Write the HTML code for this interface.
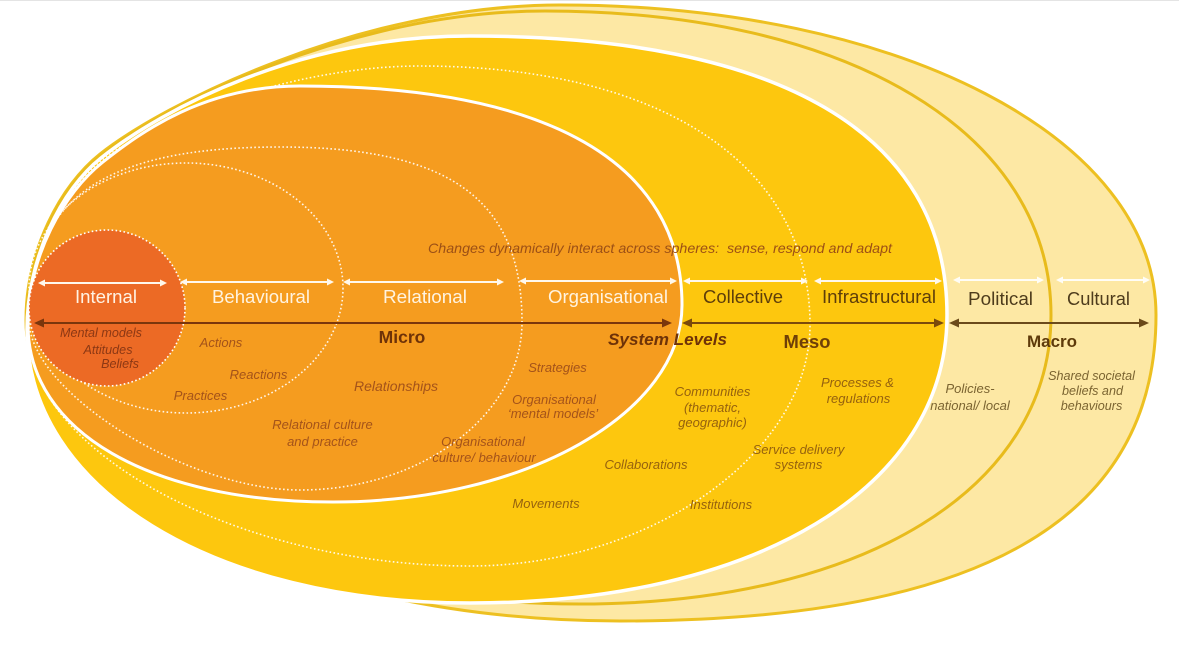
<!DOCTYPE html>
<html>
<head>
<meta charset="utf-8">
<style>
html,body{margin:0;padding:0;background:#fff;}
svg{display:block;}
text{font-family:"Liberation Sans",Arial,sans-serif;}
.lbl{font-size:18.5px;}
.it{font-size:13px;font-style:italic;}
.bd{font-size:17.5px;font-weight:bold;}
</style>
</head>
<body>
<svg width="1179" height="650" viewBox="0 0 1179 650" xmlns="http://www.w3.org/2000/svg">
<rect x="0" y="0" width="1179" height="650" fill="#fff"/>
<rect x="0" y="0" width="1179" height="1" fill="#e4e4e4"/>

<!-- Cultural -->
<path d="M26,320 C26,250 60.8,185 100,154 C162.7,104.3 360,5 560,5 C899.7,5 1156,138.3 1156,315 C1156,520 979.1,621 620,621 C293.3,621 26,485.6 26,320 Z" fill="#FDE8A4" stroke="#EDC021" stroke-width="3"/>
<!-- Political -->
<path d="M27,322 C27,252 60.8,187 100,156 C162.7,106.3 350,11 545,11 C848.6,11 1051,132.6 1051,315 C1051,488.4 862.6,604 580,604 C275.9,604 27,477.1 27,322 Z" fill="#FDE8A4" stroke="#E8BB1C" stroke-width="3"/>
<!-- Meso -->
<path d="M27,330 C27,258 61.8,189 101,158 C163.7,108.3 300,36 470,36 C780,36 947,133.7 947,315 C947,487.8 756.2,603 470,603 C213.1,603 27,488.3 27,330 Z" fill="#FDC70E" stroke="#FFFFFF" stroke-width="3.5"/>
<!-- Collective dotted -->
<path d="M28,330 C28,258 62.8,191 102,160 C149,122.7 290,66 420,66 C661.8,66 810,164.4 810,325 C810,452.7 650.2,566 470,566 C240.2,566 28,452.7 28,330 Z" fill="none" stroke="#FFFFFF" stroke-width="1.6" stroke-dasharray="1.6 2.4" opacity="0.9"/>
<!-- Organisational -->
<path d="M28,325 C28,256 63.8,193 103,162 C142.2,131 205,86 300,86 C548.3,86 682,162.6 682,305 C682,413.4 525,502 333,502 C150,502 28,431.2 28,325 Z" fill="#F59C1F" stroke="#FFFFFF" stroke-width="3"/>
<!-- Relational dotted -->
<path d="M29,320 C29,198.9 104.3,147 280,147 C449.4,147 522,199.5 522,322 C522,414.4 422.1,490 300,490 C186.2,490 29,391.4 29,320 Z" fill="none" stroke="#FFFFFF" stroke-width="1.6" stroke-dasharray="1.6 2.4" opacity="0.9"/>
<!-- Behavioural dotted -->
<ellipse cx="186" cy="288" rx="157" ry="125" fill="none" stroke="#FFFFFF" stroke-width="1.6" stroke-dasharray="1.6 2.4" opacity="0.9"/>
<!-- Internal -->
<circle cx="107" cy="308" r="78" fill="#EC6A25" stroke="#FFFFFF" stroke-width="1.6" stroke-dasharray="1.6 2.4"/>

<!-- White double arrows -->
<g stroke="#FFF8EC" stroke-width="2" fill="#FFF8EC">
  <line x1="44" y1="283" x2="161" y2="283"/>
  <polygon points="38,283 45,279.5 45,286.5" stroke="none"/><polygon points="167,283 160,279.5 160,286.5" stroke="none"/>
  <line x1="186" y1="282" x2="328" y2="282"/>
  <polygon points="180,282 187,278.5 187,285.5" stroke="none"/><polygon points="334,282 327,278.5 327,285.5" stroke="none"/>
  <line x1="349" y1="282" x2="498" y2="282"/>
  <polygon points="343,282 350,278.5 350,285.5" stroke="none"/><polygon points="504,282 497,278.5 497,285.5" stroke="none"/>
  <line x1="525" y1="281" x2="671" y2="281"/>
  <polygon points="519,281 526,277.5 526,284.5" stroke="none"/><polygon points="677,281 670,277.5 670,284.5" stroke="none"/>
  <line x1="689" y1="281" x2="802" y2="281"/>
  <polygon points="683,281 690,277.5 690,284.5" stroke="none"/><polygon points="808,281 801,277.5 801,284.5" stroke="none"/>
  <line x1="820" y1="281" x2="936" y2="281"/>
  <polygon points="814,281 821,277.5 821,284.5" stroke="none"/><polygon points="942,281 935,277.5 935,284.5" stroke="none"/>
</g>
<g stroke="#FFFDF6" stroke-width="2" fill="#FFFDF6">
  <line x1="959" y1="280" x2="1038" y2="280"/>
  <polygon points="953,280 960,276.5 960,283.5" stroke="none"/><polygon points="1044,280 1037,276.5 1037,283.5" stroke="none"/>
  <line x1="1062" y1="280" x2="1144" y2="280"/>
  <polygon points="1056,280 1063,276.5 1063,283.5" stroke="none"/><polygon points="1150,280 1143,276.5 1143,283.5" stroke="none"/>
</g>

<!-- Brown arrows -->
<g>
  <line x1="42" y1="323" x2="664" y2="323" stroke="#7A360C" stroke-width="2"/>
  <polygon points="34,323 44,318.5 44,327.5" fill="#7A360C"/>
  <polygon points="672,323 662,318.5 662,327.5" fill="#7A360C"/>
  <line x1="690" y1="323" x2="936" y2="323" stroke="#7A4A0C" stroke-width="2"/>
  <polygon points="682,323 692,318.5 692,327.5" fill="#7A4A0C"/>
  <polygon points="944,323 934,318.5 934,327.5" fill="#7A4A0C"/>
  <line x1="957" y1="323" x2="1141" y2="323" stroke="#6B4A1A" stroke-width="2"/>
  <polygon points="949,323 959,318.5 959,327.5" fill="#6B4A1A"/>
  <polygon points="1149,323 1139,318.5 1139,327.5" fill="#6B4A1A"/>
</g>

<!-- Sphere labels -->
<g class="lbl" text-anchor="middle">
  <text x="106" y="303" fill="#FFF3E4" textLength="62" lengthAdjust="spacingAndGlyphs">Internal</text>
  <text x="261" y="303" fill="#FFF3E0" textLength="98" lengthAdjust="spacingAndGlyphs">Behavioural</text>
  <text x="425" y="303" fill="#FFF3E0" textLength="84" lengthAdjust="spacingAndGlyphs">Relational</text>
  <text x="608" y="303" fill="#FFF3E0" textLength="120" lengthAdjust="spacingAndGlyphs">Organisational</text>
  <text x="743" y="303" fill="#5E3E0A" textLength="80" lengthAdjust="spacingAndGlyphs">Collective</text>
  <text x="879" y="303" fill="#5E3E0A" textLength="114" lengthAdjust="spacingAndGlyphs">Infrastructural</text>
  <text x="1000.5" y="305" fill="#4E3C1C" textLength="65" lengthAdjust="spacingAndGlyphs">Political</text>
  <text x="1098.5" y="305" fill="#4E3C1C" textLength="63" lengthAdjust="spacingAndGlyphs">Cultural</text>
</g>

<!-- Level labels -->
<text x="402" y="343" class="bd" fill="#6E3208" text-anchor="middle">Micro</text>
<text x="667.5" y="345" font-size="17" font-weight="bold" font-style="italic" fill="#6E3208" text-anchor="middle" textLength="119" lengthAdjust="spacingAndGlyphs">System Levels</text>
<text x="807" y="348" font-size="18" font-weight="bold" fill="#6E3F08" text-anchor="middle" textLength="47" lengthAdjust="spacingAndGlyphs">Meso</text>
<text x="1052" y="347" font-size="17" font-weight="bold" fill="#5E3A0A" text-anchor="middle" textLength="50" lengthAdjust="spacingAndGlyphs">Macro</text>

<!-- Top statement -->
<text x="428" y="253" font-size="14" font-style="italic" fill="#9C5016" textLength="464" lengthAdjust="spacingAndGlyphs" xml:space="preserve">Changes dynamically interact across spheres:  sense, respond and adapt</text>

<!-- Internal items -->
<g class="it" text-anchor="middle" fill="#8C3814">
  <text x="101" y="337" font-size="12.6">Mental models</text>
  <text x="108" y="354" font-size="12.6">Attitudes</text>
  <text x="120" y="368" font-size="12.6">Beliefs</text>
</g>
<!-- Orange items -->
<g class="it" text-anchor="middle" fill="#A4531A">
  <text x="221" y="347">Actions</text>
  <text x="258.5" y="379">Reactions</text>
  <text x="200.5" y="400">Practices</text>
  <text x="396" y="391" font-size="14">Relationships</text>
  <text x="322.5" y="429">Relational culture</text>
  <text x="322.5" y="446">and practice</text>
  <text x="557.5" y="372">Strategies</text>
  <text x="554" y="404">Organisational</text>
  <text x="553" y="418">‘mental models’</text>
  <text x="483" y="446">Organisational</text>
  <text x="484" y="462">culture/ behaviour</text>
</g>
<!-- Yellow items -->
<g class="it" text-anchor="middle" fill="#96620E">
  <text x="546" y="508">Movements</text>
  <text x="646" y="469">Collaborations</text>
  <text x="712.5" y="396">Communities</text>
  <text x="712.5" y="412">(thematic,</text>
  <text x="712.5" y="427">geographic)</text>
  <text x="857.5" y="387">Processes &amp;</text>
  <text x="858.5" y="403">regulations</text>
  <text x="798.5" y="454">Service delivery</text>
  <text x="798.5" y="469">systems</text>
  <text x="721" y="509">Institutions</text>
</g>
<!-- Light yellow items -->
<g class="it" text-anchor="middle" fill="#7B6431">
  <text x="970" y="393">Policies-</text>
  <text x="970" y="410">national/ local</text>
  <text x="1091.5" y="380" font-size="12.6">Shared societal</text>
  <text x="1092.5" y="395" font-size="12.6">beliefs and</text>
  <text x="1091.5" y="410" font-size="12.6">behaviours</text>
</g>
</svg>
</body>
</html>
